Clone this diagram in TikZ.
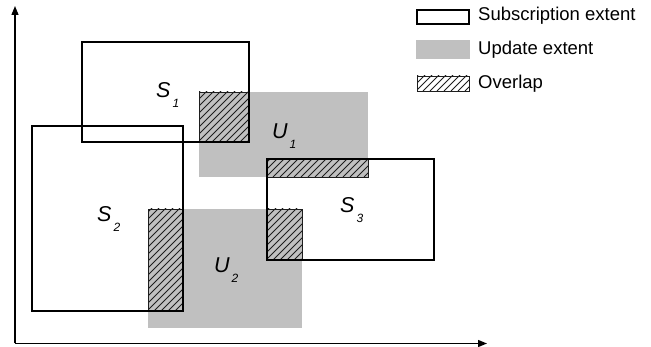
\documentclass[tikz,border=0pt]{standalone}
\usepackage{fontspec}
\setmainfont{Liberation Sans}
\usetikzlibrary{arrows.meta}
\definecolor{updgray}{RGB}{192,192,192}
\definecolor{hatchink}{RGB}{30,30,30}
\newcommand\myhatch[5]{%
  \begin{scope}
    \fill[#5] (#1,#2) rectangle (#3,#4);
    \clip (#1,#2) rectangle (#3,#4);
    \foreach \k in {-120,-113,...,200} {
      \draw[hatchline] (#1+\k,#4) -- +(150,-150);
    }
  \end{scope}
  \draw[hatchborder] (#1,#2) rectangle (#3,#4);
}
\begin{document}
\begin{tikzpicture}[x=1pt,y=-1pt,
  subbox/.style={draw=black, line width=2.9pt},
  updbox/.style={fill=updgray},
  hatchline/.style={draw=hatchink, line width=0.75pt},
  hatchborder/.style={draw=hatchink, line width=0.8pt},
  axis/.style={draw=black, line width=1.3pt, -{Triangle[length=9pt,width=7pt]}},
  lbl/.style={inner sep=0pt, anchor=base west, font=\fontsize{21.5}{24}\selectfont\itshape},
  legtext/.style={inner sep=0pt, anchor=base west, font=\fontsize{18.5}{21}\selectfont}]
\useasboundingbox (0,0) rectangle (651,347);
\newcommand\sublbl[2]{#1\hspace{2pt}\raisebox{-10pt}{\fontsize{12}{13}\selectfont #2}}
% update extents
\fill[updbox] (199,92) rectangle (368,177);
\fill[updbox] (148,209) rectangle (302,328);
% overlaps
\myhatch{199}{92}{249}{142}{updgray}
\myhatch{267}{159}{368}{177}{updgray}
\myhatch{148}{209}{183}{311}{updgray}
\myhatch{267}{209}{302}{260}{updgray}
% subscription extents
\draw[subbox] (82,42) rectangle (249,142);
\draw[subbox] (32,126) rectangle (183,311);
\draw[subbox] (267,159) rectangle (434,260);
% labels
\node[lbl] (s1) at (156,97.5) {\sublbl{S}{1}};
\node[lbl] (u1) at (272,138.5) {\sublbl{U}{1}};
\node[lbl] (s2) at (97,222) {\sublbl{S}{2}};
\node[lbl] (s3) at (340,213) {\sublbl{S}{3}};
\node[lbl] (u2) at (214,273) {\sublbl{U}{2}};
% axes
\coordinate (O) at (15,343.5);
\coordinate (xend) at (487,343.5);
\coordinate (yend) at (15,6);
\draw[axis] (O) -- (xend);
\draw[axis] (O) -- (yend);
% legend
\draw[subbox] (417,10) rectangle (469,24);
\fill[updbox] (416,40) rectangle (470,59);
\myhatch{417}{76}{469}{91}{white}
\node[legtext] (l1) at (478,21) {Subscription extent};
\node[legtext] (l2) at (478,55) {Update extent};
\node[legtext] (l3) at (478,88.5) {Overlap};
\end{tikzpicture}
\end{document}
